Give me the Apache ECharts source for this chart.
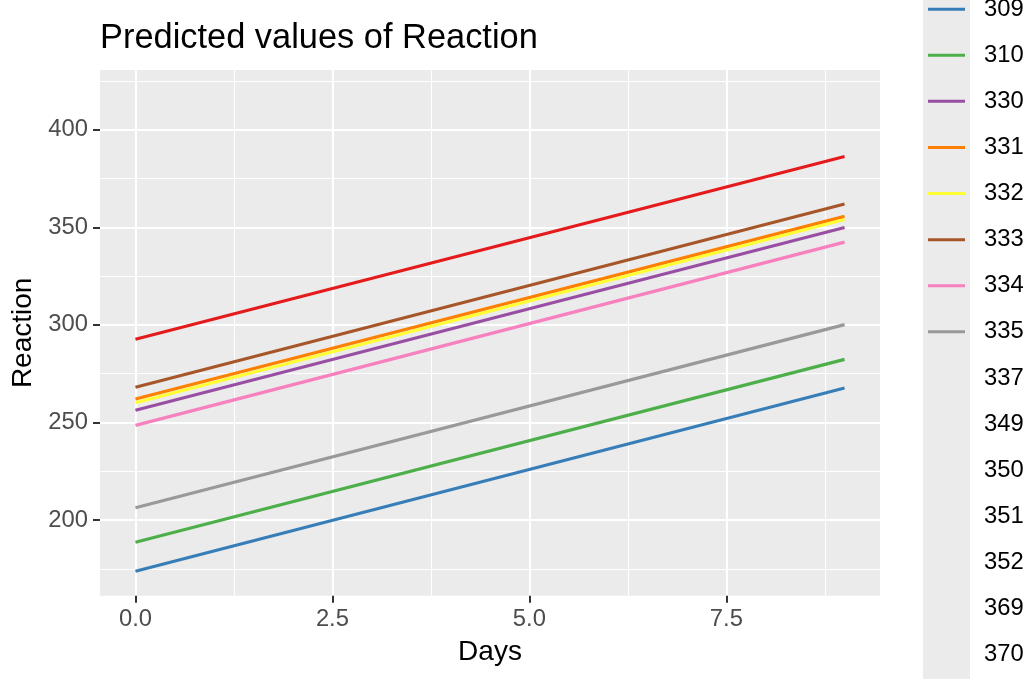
<!DOCTYPE html>
<html>
<head>
<meta charset="utf-8">
<style>
  html, body { margin: 0; padding: 0; background: #ffffff; }
  #chart { width: 1029px; height: 679px; }
</style>
<script src="https://cdn.jsdelivr.net/npm/echarts@6/dist/echarts.min.js"></script>
</head>
<body>
<div id="chart"></div>
<script>
// Subjects listed in the legend (only the first nine have a predicted line)
const subjects = ['308', '309', '310', '330', '331', '332', '333', '334', '335',
                  '337', '349', '350', '351', '352', '369', '370', '371', '372'];
// Predicted Reaction at the first and last day of the study
const days = [0, 9];
const reactionDay0 = [292.6, 173.7, 188.6, 256.2, 262.0, 260.1, 268.0, 248.5, 206.3];
const reactionDay9 = [386.3, 267.6, 282.3, 349.9, 355.6, 354.0, 361.9, 342.4, 300.1];
// Set1 palette
const palette = ['#E41A1C', '#377EB8', '#4DAF4A', '#984EA3', '#FF7F00',
                 '#FFFF33', '#A65628', '#F781BF', '#999999'];
// Axis ticks
const xMajorTicks = [0, 2.5, 5, 7.5];
const xMinorTicks = [1.25, 3.75, 6.25, 8.75];
const yMajorTicks = [200, 250, 300, 350, 400];
const yMinorTicks = [175, 225, 275, 325, 375, 425];

const FONT = '"Liberation Sans", Arial, Helvetica, sans-serif';
const X_RANGE = [-0.45, 9.45];
const Y_RANGE = [161.2, 430.6];

const series = subjects.map((name, i) => {
  const has = i < reactionDay0.length;
  const color = has ? palette[i] : 'rgba(0,0,0,0)';
  return {
    name: name,
    type: 'line',
    xAxisIndex: 0,
    yAxisIndex: 0,
    symbol: 'none',
    silent: true,
    color: color,
    lineStyle: { color: color, width: 3.2 },
    itemStyle: { color: color },
    data: has ? days.map((d, k) => [d, k === 0 ? reactionDay0[i] : reactionDay9[i]]) : []
  };
});

function majorAxis(isX, ticks, range, name) {
  return {
    type: 'value',
    min: range[0],
    max: range[1],
    position: isX ? 'bottom' : 'left',
    name: name,
    nameLocation: 'middle',
    nameGap: isX ? 43 : 63,
    nameTextStyle: { fontFamily: FONT, fontSize: 28, color: '#000000' },
    axisLine: { show: false, onZero: false },
    axisTick: { show: true, length: 7, customValues: ticks,
                lineStyle: { color: '#333333', width: 2 } },
    axisLabel: { show: true, customValues: ticks, margin: 12,
                 fontFamily: FONT, fontSize: 23.8, color: '#4D4D4D',
                 formatter: v => isX ? Number(v).toFixed(1) : String(v) },
    splitLine: { show: true, lineStyle: { color: '#FFFFFF', width: 2.1 } },
    splitArea: { show: false },
    minorTick: { show: false },
    minorSplitLine: { show: false }
  };
}

function minorAxis(isX, ticks, range) {
  return {
    type: 'value',
    min: range[0],
    max: range[1],
    position: isX ? 'bottom' : 'left',
    axisLine: { show: false, onZero: false },
    axisTick: { show: false, customValues: ticks },
    axisLabel: { show: false, customValues: ticks },
    splitLine: { show: true, lineStyle: { color: '#FFFFFF', width: 1 } },
    splitArea: { show: false }
  };
}

const chart = echarts.init(document.getElementById('chart'), null, { renderer: 'canvas' });
chart.setOption({
  animation: false,
  backgroundColor: '#FFFFFF',
  title: {
    text: 'Predicted values of Reaction',
    left: 100,
    top: 22,
    padding: 0,
    textStyle: { fontFamily: FONT, fontSize: 34.4, fontWeight: 'normal', color: '#000000' }
  },
  grid: {
    left: 100, right: 149, top: 70, bottom: 83.3,
    show: true, backgroundColor: '#EBEBEB', borderWidth: 0,
    containLabel: false
  },
  graphic: [{
    type: 'rect',
    silent: true,
    z: -1,
    shape: { x: 923, y: 0, width: 47, height: 679 },
    style: { fill: '#EBEBEB' }
  }],
  legend: {
    orient: 'vertical',
    left: 928,
    top: -60,
    padding: 0,
    itemGap: 0,
    itemWidth: 37,
    itemHeight: 3,
    icon: 'rect',
    selectedMode: false,
    data: subjects,
    textStyle: { fontFamily: FONT, fontSize: 23.8, color: '#000000',
                 lineHeight: 46.1, padding: [0, 0, 0, 14] }
  },
  xAxis: [majorAxis(true, xMajorTicks, X_RANGE, 'Days'), minorAxis(true, xMinorTicks, X_RANGE)],
  yAxis: [majorAxis(false, yMajorTicks, Y_RANGE, 'Reaction'), minorAxis(false, yMinorTicks, Y_RANGE)],
  series: series
});
</script>
</body>
</html>
